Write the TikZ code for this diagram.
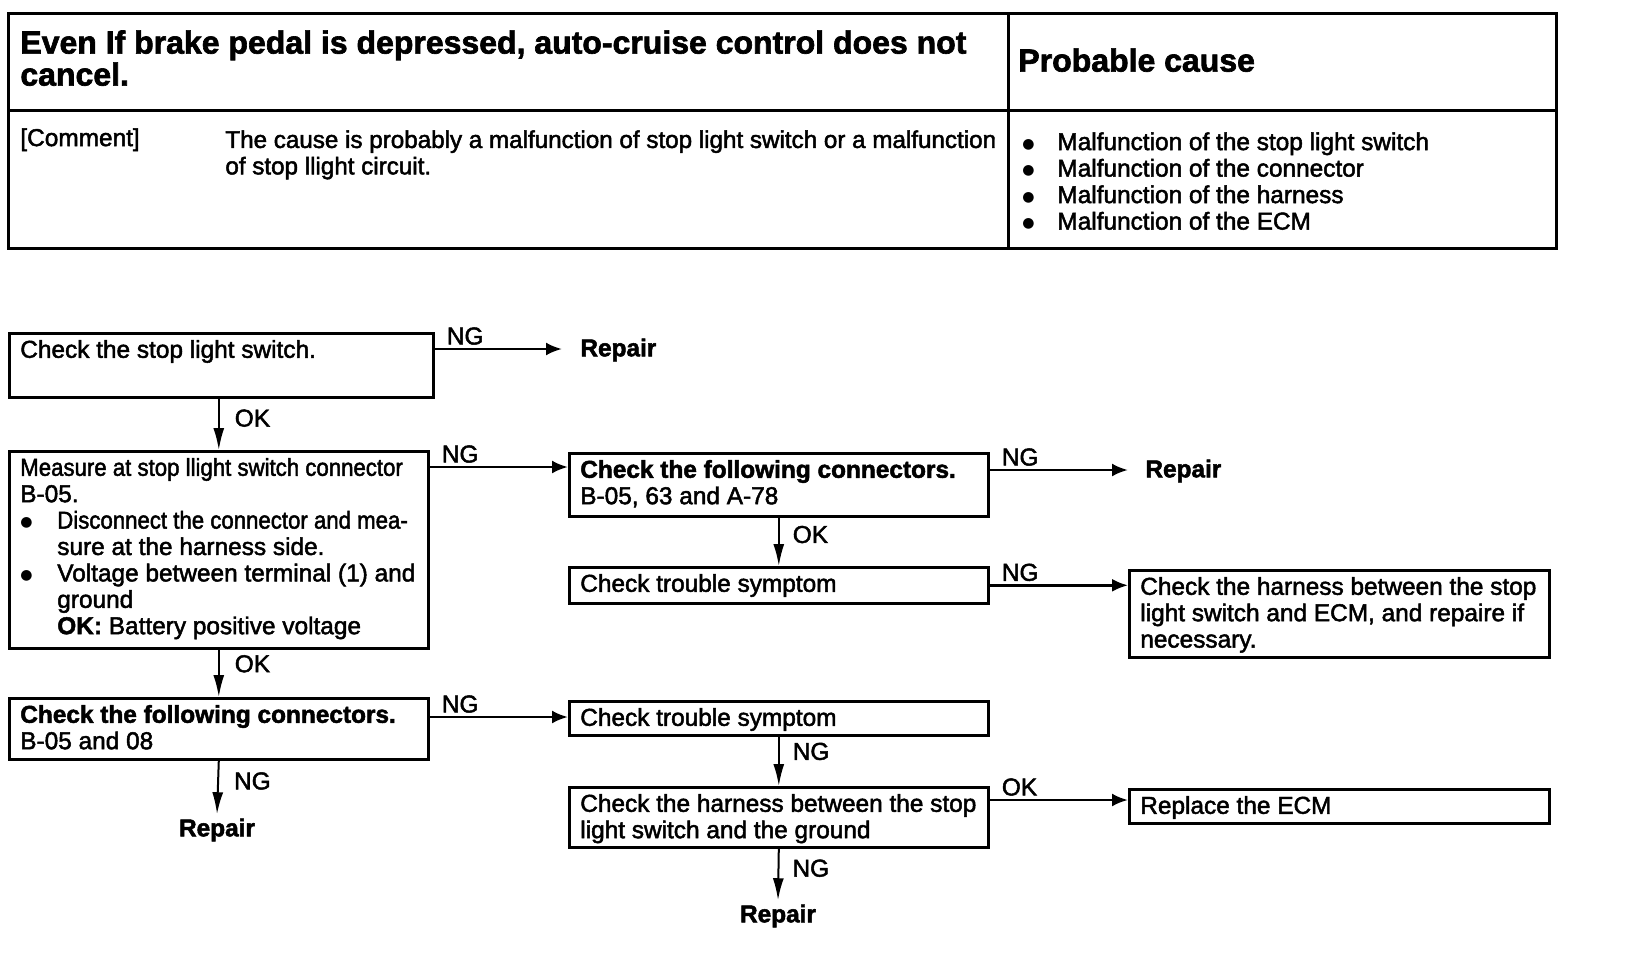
\documentclass[tikz,border=0pt]{standalone}
\usepackage{fontspec}
\usepackage{graphicx}
\setmainfont{Liberation Sans}[RawFeature={embolden=2}]
\newfontfamily\dotfont{DejaVu Sans}
\usetikzlibrary{arrows.meta}

\newcommand{\boxtext}[3]{\parbox[c][#2][t]{#1}{\begin{tabular}{@{}l@{}}#3\end{tabular}}}
\newcommand{\bigdot}{\raisebox{1pt}{\dotfont\fontsize{7pt}{7pt}\selectfont ●}}
\newcommand{\bul}{\makebox[18.5pt][l]{\bigdot}}
\newcommand{\causebul}{\makebox[17.5pt][l]{\bigdot}}
\newcommand{\squeeze}[1]{\scalebox{0.91}[1]{#1}}

\tikzset{
  stepbox/.style={draw, line width=1.3pt, inner xsep=5.5pt, inner ysep=3pt, anchor=north west},
  down-edge/.style={-{Latex[length=11pt,width=5.5pt]}, line width=1pt},
  side-edge/.style={-{Latex[length=8pt,width=6.5pt]}, line width=1.3pt},
  edge-label/.style={inner sep=1.5pt},
  repair/.style={font=\fontsize{12.2pt}{13.2pt}\selectfont\bfseries},
  headline/.style={font=\fontsize{16pt}{16pt}\selectfont\bfseries},
  frame/.style={line width=1.5pt}
}

\begin{document}
\begin{tikzpicture}[x=0.5pt, y=-0.5pt, font=\fontsize{12.2pt}{13.2pt}\selectfont, every node/.style={inner sep=2pt}]
\useasboundingbox (0,0) rectangle (1632,974);

% table
\draw[frame] (8,14) rectangle (1556,248);
\draw[frame] (8,111) -- (1556,111);
\draw[frame] (1008,14) -- (1008,248);
\node[headline, anchor=north west, align=left] (title) at (16,26) {Even If brake pedal is depressed, auto-cruise control does not\\cancel.};
\node[headline, anchor=north west] (cause) at (1014,44) {Probable cause};
\node[anchor=north west] (comment) at (16,124) {[Comment]};
\node[anchor=north west, align=left, font=\fontsize{12.1pt}{13.2pt}\selectfont] (commenttext) at (221,126) {The cause is probably a malfunction of stop light switch or a malfunction\\of stop llight circuit.};
\node[anchor=north west, align=left, font=\fontsize{12.2pt}{13.25pt}\selectfont] (causes) at (1018,128) {\causebul Malfunction of the stop light switch\\\causebul Malfunction of the connector\\\causebul Malfunction of the harness\\\causebul Malfunction of the ECM};

% boxes
\node[stepbox] (sw) at (8,332) {\boxtext{201pt}{26pt}{Check the stop light switch.}};
\node[stepbox] (meas) at (8,450) {\boxtext{198.5pt}{92.5pt}{\squeeze{Measure at stop llight switch connector}\\B-05.\\\bul\squeeze{Disconnect the connector and mea-}\\\hspace*{18.5pt}sure at the harness side.\\\bul Voltage between terminal (1) and\\\hspace*{18.5pt}ground\\\hspace*{18.5pt}\textbf{OK:} Battery positive voltage}};
\node[stepbox] (conn1) at (568,452) {\boxtext{198.5pt}{25.5pt}{\textbf{Check the following connectors.}\\B-05, 63 and A-78}};
\node[stepbox] (sym1) at (568,566) {\boxtext{198.5pt}{12pt}{Check trouble symptom}};
\node[stepbox] (harn1) at (1128,569) {\boxtext{199pt}{37.5pt}{Check the harness between the stop\\light switch and ECM, and repaire if\\necessary.}};
\node[stepbox] (conn2) at (8,697) {\boxtext{198.5pt}{24.5pt}{\textbf{Check the following connectors.}\\B-05 and 08}};
\node[stepbox] (sym2) at (568,700) {\boxtext{198.5pt}{11pt}{Check trouble symptom}};
\node[stepbox] (harn2) at (568,786) {\boxtext{198.5pt}{24pt}{Check the harness between the stop\\light switch and the ground}};
\node[stepbox] (ecm) at (1128,788) {\boxtext{199pt}{11pt}{Replace the ECM}};

% repair ends
\node[repair, anchor=west] (rep1) at (576,350) {Repair};
\node[repair, anchor=west] (rep2) at (1141,471) {Repair};
\node[repair] (rep3) at (217,830) {Repair};
\node[repair] (rep4) at (778,916) {Repair};

% exits
\coordinate (sw-ng) at ([yshift=-8.5pt]sw.north east);
\coordinate (meas-ng) at ([yshift=-8.5pt]meas.north east);
\coordinate (conn1-ng) at ([yshift=-9pt]conn1.north east);
\coordinate (conn2-ng) at ([yshift=-10pt]conn2.north east);
\coordinate (harn2-ok) at ([yshift=-7pt]harn2.north east);

\draw[side-edge, shorten >=7pt] (sw-ng) -- node[edge-label, pos=0, above right, xshift=4pt] {NG} (sw-ng -| rep1.west);
\draw[side-edge] (meas-ng) -- node[edge-label, pos=0, above right, xshift=4pt] {NG} (meas-ng -| conn1.west);
\draw[side-edge, shorten >=6.5pt] (conn1-ng) -- node[edge-label, pos=0, above right, xshift=4pt] {NG} (conn1-ng -| rep2.west);
\draw[side-edge] (sym1.east) -- node[edge-label, pos=0, above right, xshift=4pt] {NG} (sym1.east -| harn1.west);
\draw[side-edge] (conn2-ng) -- node[edge-label, pos=0, above right, xshift=4pt] {NG} (conn2-ng -| sym2.west);
\draw[side-edge] (harn2-ok) -- node[edge-label, pos=0, above right, xshift=4pt] {OK} (harn2-ok -| ecm.west);

\draw[down-edge] (meas.north |- sw.south) -- node[edge-label, pos=0.38, right, xshift=6pt] {OK} (meas.north);
\draw[down-edge] (meas.south) -- node[edge-label, pos=0.3, right, xshift=6pt] {OK} (conn2.north);
\draw[down-edge] (conn1.south) -- node[edge-label, pos=0.35, right, xshift=5pt] {OK} (sym1.north);
\draw[down-edge] (conn2.south) -- node[edge-label, pos=0.38, right, xshift=6pt] {NG} (rep3.north);
\draw[down-edge] (sym2.south) -- node[edge-label, pos=0.3, right, xshift=5pt] {NG} (harn2.north);
\draw[down-edge] (harn2.south) -- node[edge-label, pos=0.38, right, xshift=5pt] {NG} (rep4.north);

\end{tikzpicture}
\end{document}
